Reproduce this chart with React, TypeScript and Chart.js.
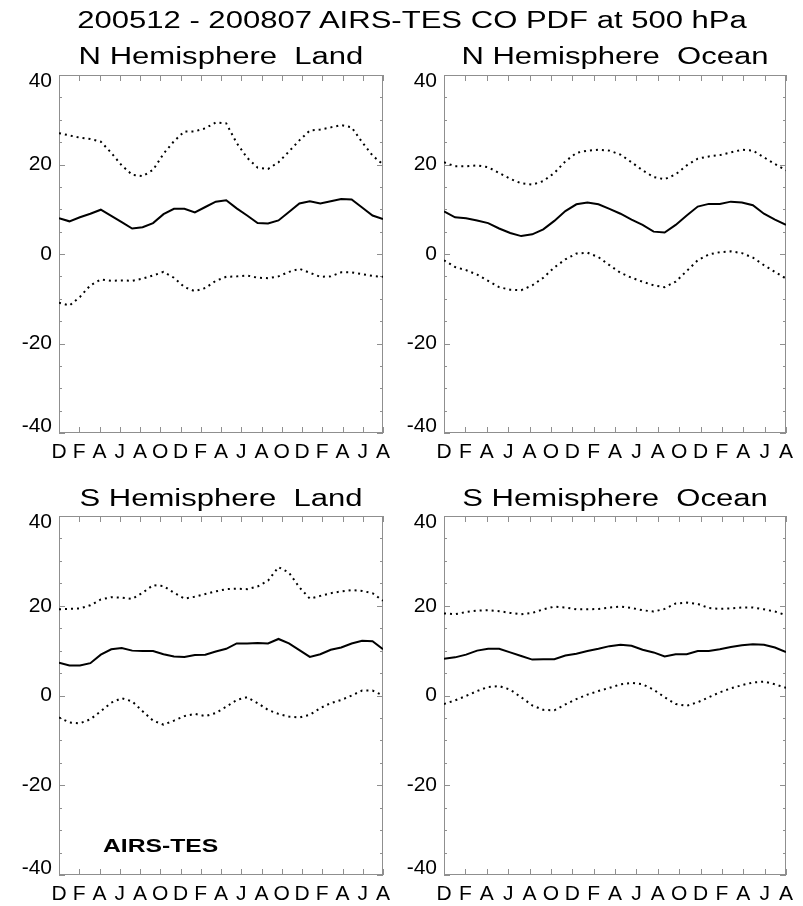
import React, { useEffect, useRef } from "react";
import { Chart, registerables } from "chart.js";

Chart.register(...registerables);

const FIG_W = 803;
const FIG_H = 906;
const FONT = '"Liberation Sans", Arial, Helvetica, sans-serif';

const mainTitle = "200512 - 200807 AIRS-TES CO PDF at 500 hPa";
const xTickLabels = ["D", "F", "A", "J", "A", "O", "D", "F", "A", "J", "A", "O", "D", "F", "A", "J", "A"];
const yTickValues = [-40, -20, 0, 20, 40];
const yMinorStep = 5;
const xMax = 31; // 32 monthly values, 200512..200807

const nhLandMean = [8.0, 7.3, 8.2, 9.0, 9.9, 8.5, 7.1, 5.7, 6.0, 6.9, 8.9, 10.1, 10.1, 9.3, 10.5, 11.7, 12.0, 10.2, 8.6, 6.9, 6.8, 7.5, 9.4, 11.3, 11.8, 11.3, 11.8, 12.3, 12.2, 10.4, 8.6, 7.8];
const nhLandUpper = [27.0, 26.5, 26.0, 25.7, 25.1, 22.6, 19.8, 17.7, 17.4, 18.8, 22.4, 25.2, 27.4, 27.4, 28.1, 29.4, 29.2, 24.8, 21.5, 19.3, 19.0, 20.5, 22.9, 25.4, 27.6, 27.8, 28.3, 28.8, 28.3, 25.0, 22.0, 20.0];
const nhLandLower = [-10.9, -11.5, -9.6, -7.0, -5.7, -6.0, -5.9, -6.0, -5.5, -4.8, -4.0, -5.3, -7.4, -8.3, -7.6, -6.0, -5.1, -5.0, -4.8, -5.3, -5.4, -5.0, -4.0, -3.3, -4.2, -5.1, -5.0, -4.1, -4.1, -4.5, -4.9, -5.1];

const nhOceanMean = [9.5, 8.2, 8.0, 7.5, 6.9, 5.7, 4.7, 4.0, 4.4, 5.5, 7.4, 9.6, 11.1, 11.5, 11.1, 10.1, 9.0, 7.7, 6.5, 5.0, 4.8, 6.5, 8.6, 10.6, 11.2, 11.2, 11.7, 11.5, 10.9, 9.0, 7.7, 6.5];
const nhOceanUpper = [20.5, 19.6, 19.6, 19.8, 19.4, 18.1, 16.8, 15.8, 15.5, 16.3, 18.1, 20.7, 22.6, 23.1, 23.3, 23.1, 22.2, 20.5, 18.7, 17.2, 16.7, 17.8, 19.8, 21.3, 21.8, 22.1, 22.7, 23.3, 23.1, 21.6, 20.1, 18.7];
const nhOceanLower = [-1.4, -2.9, -3.6, -4.6, -6.0, -7.4, -8.0, -8.1, -7.0, -5.3, -3.0, -1.2, 0.1, 0.3, -0.7, -2.5, -4.2, -5.3, -6.2, -7.0, -7.4, -6.2, -3.8, -1.4, -0.1, 0.4, 0.6, 0.2, -0.8, -2.5, -4.0, -5.5];

const shLandMean = [7.3, 6.7, 6.7, 7.2, 9.1, 10.3, 10.6, 10.0, 9.9, 9.9, 9.2, 8.7, 8.6, 9.0, 9.1, 9.8, 10.4, 11.6, 11.6, 11.7, 11.6, 12.6, 11.6, 10.1, 8.6, 9.2, 10.2, 10.7, 11.6, 12.2, 12.1, 10.3];
const shLandUpper = [19.2, 19.3, 19.4, 20.1, 21.4, 21.9, 21.8, 21.5, 22.9, 24.6, 24.4, 22.9, 21.6, 22.0, 22.6, 23.2, 23.7, 23.8, 23.7, 24.3, 25.6, 28.6, 27.4, 24.1, 21.6, 22.2, 22.8, 23.2, 23.5, 23.3, 22.8, 21.1];
const shLandLower = [-4.9, -6.0, -6.2, -5.3, -3.5, -1.6, -0.6, -1.3, -3.5, -5.6, -6.5, -5.6, -4.6, -4.1, -4.6, -3.9, -2.5, -1.0, -0.4, -1.7, -3.2, -4.1, -4.7, -4.9, -4.3, -2.8, -1.7, -1.0, 0.0, 1.1, 1.1, 0.0];

const shOceanMean = [8.2, 8.5, 9.1, 10.0, 10.4, 10.4, 9.6, 8.8, 8.0, 8.1, 8.1, 8.9, 9.3, 9.9, 10.4, 11.0, 11.3, 11.1, 10.2, 9.6, 8.7, 9.2, 9.2, 9.9, 9.9, 10.3, 10.8, 11.2, 11.4, 11.3, 10.7, 9.7];
const shOceanUpper = [18.3, 18.1, 18.6, 18.9, 19.0, 18.8, 18.4, 18.1, 18.4, 19.2, 19.8, 19.6, 19.2, 19.2, 19.3, 19.6, 19.8, 19.5, 19.0, 18.7, 19.3, 20.5, 20.7, 20.4, 19.5, 19.3, 19.4, 19.6, 19.6, 19.2, 18.7, 17.9];
const shOceanLower = [-1.9, -1.1, -0.1, 1.0, 1.9, 2.1, 1.3, -0.4, -2.2, -3.2, -3.3, -2.0, -0.8, 0.2, 1.0, 1.7, 2.5, 2.8, 2.5, 1.3, -0.4, -1.9, -2.3, -1.5, -0.4, 0.7, 1.6, 2.3, 2.9, 3.1, 2.5, 1.7];

const panelTitles = ["N Hemisphere  Land", "N Hemisphere  Ocean", "S Hemisphere  Land", "S Hemisphere  Ocean"];

// layout (page pixels) of each plot box
const panelAreas = [
  { left: 59, top: 75, right: 383, bottom: 433 },
  { left: 444, top: 75, right: 786, bottom: 433 },
  { left: 59, top: 516, right: 383, bottom: 875 },
  { left: 444, top: 516, right: 786, bottom: 875 },
];
const panelTitleTops = [44.5, 44.5, 486.5, 486.5];

const panels = [
  { title: panelTitles[0], mean: nhLandMean, upper: nhLandUpper, lower: nhLandLower, area: panelAreas[0], titleTop: panelTitleTops[0] },
  { title: panelTitles[1], mean: nhOceanMean, upper: nhOceanUpper, lower: nhOceanLower, area: panelAreas[1], titleTop: panelTitleTops[1] },
  { title: panelTitles[2], mean: shLandMean, upper: shLandUpper, lower: shLandLower, area: panelAreas[2], titleTop: panelTitleTops[2] },
  { title: panelTitles[3], mean: shOceanMean, upper: shOceanUpper, lower: shOceanLower, area: panelAreas[3], titleTop: panelTitleTops[3] },
];

const toPoints = (arr: number[]) => arr.map((v, i) => ({ x: i, y: v }));

const AXIS_COLOR = "#8f8f8f";

function PanelChart({ panel }: { panel: any }) {
  const ref = useRef<HTMLCanvasElement | null>(null);
  useEffect(() => {
    const { left, top, right, bottom } = panel.area;
    const yAxisW = 60;
    const xAxisH = 40;
    const framePlugin = {
      id: "idlFrame",
      beforeDatasetsDraw(chart: any) {
        const { ctx, chartArea: a, scales } = chart;
        const xs = scales.x;
        const ys = scales.y;
        ctx.save();
        ctx.strokeStyle = AXIS_COLOR;
        ctx.lineWidth = 1;
        ctx.strokeRect(a.left + 0.5, a.top + 0.5, a.right - a.left - 1, a.bottom - a.top - 1);
        ctx.beginPath();
        xs.ticks.forEach((tk: any) => {
          const px = Math.round(xs.getPixelForValue(tk.value)) + 0.5;
          ctx.moveTo(px, a.bottom);
          ctx.lineTo(px, a.bottom - 6);
          ctx.moveTo(px, a.top);
          ctx.lineTo(px, a.top + 6);
        });
        const yMin = yTickValues[0];
        const yMaxV = yTickValues[yTickValues.length - 1];
        for (let v = yMin; v <= yMaxV; v += yMinorStep) {
          const py = Math.round(ys.getPixelForValue(v)) + 0.5;
          const len = yTickValues.includes(v) ? 6 : 3;
          ctx.moveTo(a.left, py);
          ctx.lineTo(a.left + len, py);
          ctx.moveTo(a.right, py);
          ctx.lineTo(a.right - len, py);
        }
        ctx.stroke();
        ctx.restore();
      },
    };
    const lineBase = { borderColor: "#000", borderWidth: 2, pointRadius: 0, fill: false, tension: 0 };
    const chart = new Chart(ref.current as HTMLCanvasElement, {
      type: "line",
      data: {
        datasets: [
          { ...lineBase, label: "upper", data: toPoints(panel.upper), borderDash: [2, 4] },
          { ...lineBase, label: "lower", data: toPoints(panel.lower), borderDash: [2, 4] },
          { ...lineBase, label: "mean", data: toPoints(panel.mean) },
        ],
      },
      options: {
        responsive: false,
        animation: false,
        events: [],
        layout: {
          autoPadding: false,
          padding: { left: left - yAxisW, top: top, right: FIG_W - right, bottom: FIG_H - bottom - xAxisH },
        },
        plugins: { legend: { display: false }, title: { display: false }, tooltip: { enabled: false } },
        scales: {
          x: {
            type: "linear",
            min: 0,
            max: xMax,
            grid: { display: false, drawTicks: false },
            border: { display: false },
            afterBuildTicks: (ax: any) => {
              ax.ticks = xTickLabels.map((_, i) => ({ value: (i * xMax) / (xTickLabels.length - 1) }));
            },
            afterFit: (ax: any) => {
              ax.height = xAxisH;
            },
            ticks: {
              autoSkip: false,
              maxRotation: 0,
              minRotation: 0,
              padding: 7,
              color: "#000",
              font: { family: FONT, size: 21 },
              callback: (_v: any, i: number) => xTickLabels[i],
            },
          },
          y: {
            type: "linear",
            min: yTickValues[0],
            max: yTickValues[yTickValues.length - 1],
            grid: { display: false, drawTicks: false },
            border: { display: false },
            afterBuildTicks: (ax: any) => {
              ax.ticks = yTickValues.map((v) => ({ value: v }));
            },
            afterFit: (ax: any) => {
              ax.width = yAxisW;
            },
            ticks: {
              padding: 7,
              color: "#000",
              font: { family: FONT, size: 21, lineHeight: "13px" },
              callback: (v: any) => {
                const s = String(v);
                if (v === yTickValues[yTickValues.length - 1]) return ["", s];
                if (v === yTickValues[0]) return [s, ""];
                return s;
              },
            },
          },
        },
      },
      plugins: [framePlugin],
    } as any);
    return () => chart.destroy();
  }, [panel]);
  return (
    <canvas
      ref={ref}
      width={FIG_W}
      height={FIG_H}
      style={{ position: "absolute", left: 0, top: 0, width: FIG_W, height: FIG_H }}
    />
  );
}

function StretchText({ text, cx, top, size, bold }: { text: string; cx: number; top: number; size: number; bold?: boolean }) {
  return (
    <div
      style={{
        position: "absolute",
        left: cx - 400,
        top,
        width: 800,
        textAlign: "center",
        fontFamily: FONT,
        fontSize: size,
        lineHeight: `${size}px`,
        fontWeight: bold ? "bold" : "normal",
        whiteSpace: "pre",
        color: "#000",
        transform: "scaleX(1.35)",
        transformOrigin: "50% 50%",
      }}
    >
      {text}
    </div>
  );
}

export default function App() {
  return (
    <div
      style={{
        position: "absolute",
        left: 0,
        top: 0,
        width: FIG_W,
        height: FIG_H,
        background: "#fff",
        overflow: "hidden",
      }}
    >
      {panels.map((p, i) => (
        <PanelChart key={i} panel={p} />
      ))}
      <StretchText text={mainTitle} cx={412} top={8.8} size={23} />
      {panels.map((p, i) => (
        <StretchText key={"t" + i} text={p.title} cx={(p.area.left + p.area.right) / 2} top={p.titleTop} size={23} />
      ))}
      <div
        style={{
          position: "absolute",
          left: 103,
          top: 835.6,
          fontFamily: FONT,
          fontSize: 19,
          lineHeight: "19px",
          fontWeight: "bold",
          whiteSpace: "pre",
          color: "#000",
          transform: "scaleX(1.3)",
          transformOrigin: "0 50%",
        }}
      >
        AIRS-TES
      </div>
    </div>
  );
}
